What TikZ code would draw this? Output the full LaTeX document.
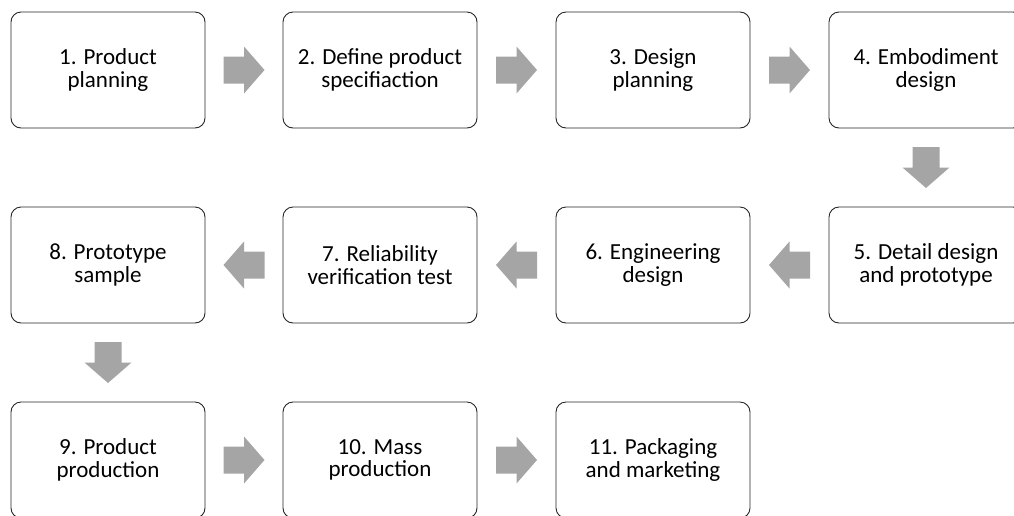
\documentclass[tikz,border=0pt]{standalone}
\usepackage{fontspec}
\setmainfont{Carlito}
\usetikzlibrary{calc}

\definecolor{arrowgray}{HTML}{A5A5A5}

\tikzset{
  stage/.style={draw=black!85, line width=0.9pt, rounded corners=10pt,
    minimum width=194pt, minimum height=116pt, align=center,
    font=\fontsize{23}{22.6}\selectfont},
  blockarrow/.pic={
    \fill[arrowgray] (-20.5,-13.5) -- (0,-13.5) -- (0,-23.5) -- (20.5,0)
      -- (0,23.5) -- (0,13.5) -- (-20.5,13.5) -- cycle;
  }
}

\begin{document}
\begin{tikzpicture}[x=1pt, y=1pt]

% Page frame
\useasboundingbox (0,0) rectangle (1014,-515);

% First row
\node[stage] (s1) at (108,-70) {1. Product\\planning};
\node[stage] (s2) at (380,-70) {2. Define product\\specifiaction};
\node[stage] (s3) at (653,-70) {3. Design\\planning};
\node[stage] (s4) at (926,-70) {4. Embodiment\\design};

% Second row (runs right to left)
\node[stage] (s5) at (926,-265) {5. Detail design\\and prototype};
\node[stage] (s6) at (653,-265) {6. Engineering\\design};
\node[stage] (s7) at (380,-265) {7. Reliability\\verification test};
\node[stage] (s8) at (108,-265) {8. Prototype\\sample};

% Third row
\node[stage] (s9) at (108,-460) {9. Product\\production};
\node[stage] (s10) at (380,-460) {10. Mass\\production};
\node[stage] (s11) at (653,-460) {11. Packaging\\and marketing};

% Block arrows between the stages
\pic at ($(s1.east)!0.5!(s2.west)$) {blockarrow};
\pic at ($(s2.east)!0.5!(s3.west)$) {blockarrow};
\pic at ($(s3.east)!0.5!(s4.west)$) {blockarrow};
\pic[rotate=-90] at ($(s4.south)!0.5!(s5.north)$) {blockarrow};
\pic[rotate=180] at ($(s5.west)!0.5!(s6.east)$) {blockarrow};
\pic[rotate=180] at ($(s6.west)!0.5!(s7.east)$) {blockarrow};
\pic[rotate=180] at ($(s7.west)!0.5!(s8.east)$) {blockarrow};
\pic[rotate=-90] at ($(s8.south)!0.5!(s9.north)$) {blockarrow};
\pic at ($(s9.east)!0.5!(s10.west)$) {blockarrow};
\pic at ($(s10.east)!0.5!(s11.west)$) {blockarrow};

\end{tikzpicture}
\end{document}
